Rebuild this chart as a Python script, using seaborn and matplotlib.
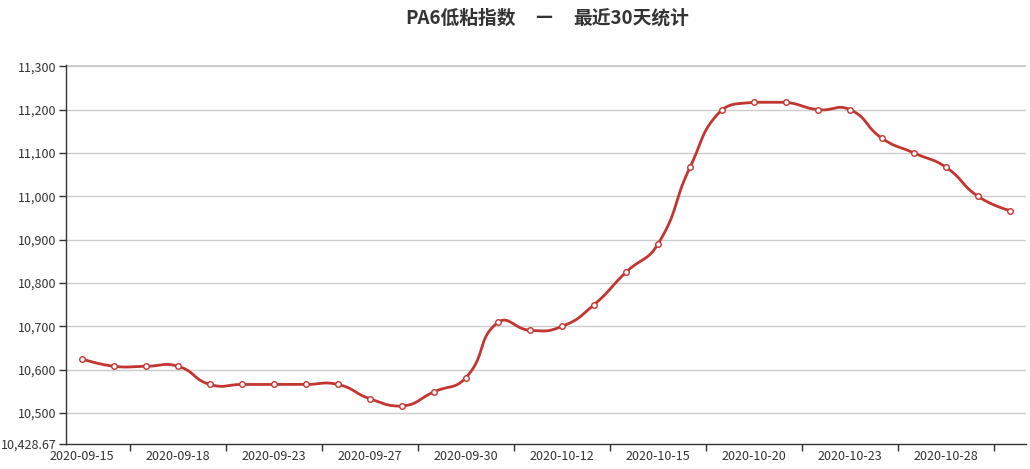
import numpy as np
import pandas as pd
import matplotlib
matplotlib.use("Agg")
import matplotlib.pyplot as plt
import seaborn as sns
from matplotlib.ticker import FixedLocator, FuncFormatter

dates = ["2020-09-15", "2020-09-16", "2020-09-17", "2020-09-18", "2020-09-21", "2020-09-22",
         "2020-09-23", "2020-09-24", "2020-09-25", "2020-09-27", "2020-09-28", "2020-09-29",
         "2020-09-30", "2020-10-09", "2020-10-10", "2020-10-12", "2020-10-13", "2020-10-14",
         "2020-10-15", "2020-10-16", "2020-10-19", "2020-10-20", "2020-10-21", "2020-10-22",
         "2020-10-23", "2020-10-26", "2020-10-27", "2020-10-28", "2020-10-29", "2020-10-30"]
values = [10625, 10608, 10608, 10608, 10566, 10566, 10566, 10566, 10566, 10533,
          10516, 10549, 10582, 10709, 10691, 10700, 10750, 10825, 10890, 11067,
          11200, 11217, 11217, 11200, 11200, 11134, 11100, 11067, 11000, 10967]
y_min = 10428.67
y_ticks = [10500, 10600, 10700, 10800, 10900, 11000, 11100, 11200, 11300]
title_left = "PA6低粘指数"
title_mid = "—"
title_right = "最近30天统计"

LINE = "#c23531"

sns.set_theme(style="white")
plt.rcParams['font.family'] = ['Noto Sans CJK SC', 'DejaVu Sans']

fig = plt.figure(figsize=(10.30, 4.69), dpi=100)
ax = fig.add_axes([66 / 1030, 25 / 469, 960 / 1030, 379 / 469])

# echarts-style smooth bezier (smooth=0.5) computed in pixel-like space
n = len(values)
sx, sy = 32.0, 0.4333
P = np.column_stack([np.arange(n) * sx, np.array(values, float) * sy])
lo, hi = P[:, 1].min(), P[:, 1].max()
cps = []
for i in range(n):
    if i == 0 or i == n - 1:
        cps.append(P[i].copy())
        continue
    prev, nxt, p = P[i - 1], P[i + 1], P[i]
    v = (nxt - prev) * 0.5
    d0 = np.linalg.norm(p - prev)
    d1 = np.linalg.norm(p - nxt)
    s = d0 + d1
    d0, d1 = d0 / s, d1 / s
    cp0 = p - v * d0
    cp1 = p + v * d1
    cp0[1] = min(max(cp0[1], lo), hi)
    cp1[1] = min(max(cp1[1], lo), hi)
    cps.append(cp0)
    cps.append(cp1)
xs, ys = [], []
t = np.linspace(0, 1, 40)[:, None]
for i in range(n - 1):
    a = P[i]
    c_out = cps[0] if i == 0 else cps[2 * i]
    c_in = cps[2 * (i + 1) - 1] if i + 1 < n - 1 else cps[-1]
    b = P[i + 1]
    seg = ((1 - t) ** 3) * a + 3 * ((1 - t) ** 2) * t * c_out + 3 * (1 - t) * t ** 2 * c_in + t ** 3 * b
    xs.extend(seg[:, 0] / sx)
    ys.extend(seg[:, 1] / sy)
curve = pd.DataFrame({"x": xs, "y": ys})
pts = pd.DataFrame({"x": np.arange(n), "y": values})

# grid lines
for yt in y_ticks:
    ax.axhline(yt, color="#cccccc", lw=1, zorder=0)
ax.axhline(11303, color="#cccccc", lw=1, zorder=0)

sns.lineplot(data=curve, x="x", y="y", ax=ax, color=LINE, lw=2, sort=False,
             estimator=None, zorder=3)
sns.scatterplot(data=pts, x="x", y="y", ax=ax, s=16, facecolor="white",
                edgecolor=LINE, linewidth=1, zorder=4)

ax.set_xlim(-0.5, n - 0.5)
ax.set_ylim(y_min, 11303)

# x axis: labels every 3rd category, ticks at category boundaries
lab_idx = list(range(0, n, 3))
ax.xaxis.set_major_locator(FixedLocator([i + 1.5 for i in range(0, n - 2, 3)]))
ax.xaxis.set_major_formatter(FuncFormatter(lambda v, p: ""))
ax.xaxis.set_minor_locator(FixedLocator(lab_idx))
ax.xaxis.set_minor_formatter(FuncFormatter(lambda v, p: dates[int(round(v))]))
ax.tick_params(axis="x", which="major", length=5, width=1, color="#333333", direction="out", bottom=True)
ax.tick_params(axis="x", which="minor", length=0, labelsize=9, labelcolor="#333333", pad=4, bottom=True)

yt_all = [y_min] + y_ticks
ax.yaxis.set_major_locator(FixedLocator(yt_all))
ax.yaxis.set_major_formatter(FuncFormatter(lambda v, p: f"{v:,.2f}" if abs(v - y_min) < 1e-6 else f"{v:,.0f}"))
ax.tick_params(axis="y", length=5, width=1, color="#333333", direction="out", left=True,
               labelsize=9, labelcolor="#333333", pad=2)

for s in ["top", "right"]:
    ax.spines[s].set_visible(False)
for s in ["left", "bottom"]:
    ax.spines[s].set_color("#333333")
    ax.spines[s].set_linewidth(1)
ax.set_xlabel("")
ax.set_ylabel("")
ax.grid(False)

ty = 1 - 18 / 469
kw = dict(va="center", fontsize=13.5, fontweight="bold", color="#333333")
fig.text(516 / 1030, ty, title_left, ha="right", **kw)
fig.text(544 / 1030, ty, title_mid, ha="center", **kw)
fig.text(573 / 1030, ty, title_right, ha="left", **kw)

fig.savefig("out.png", dpi=100)
